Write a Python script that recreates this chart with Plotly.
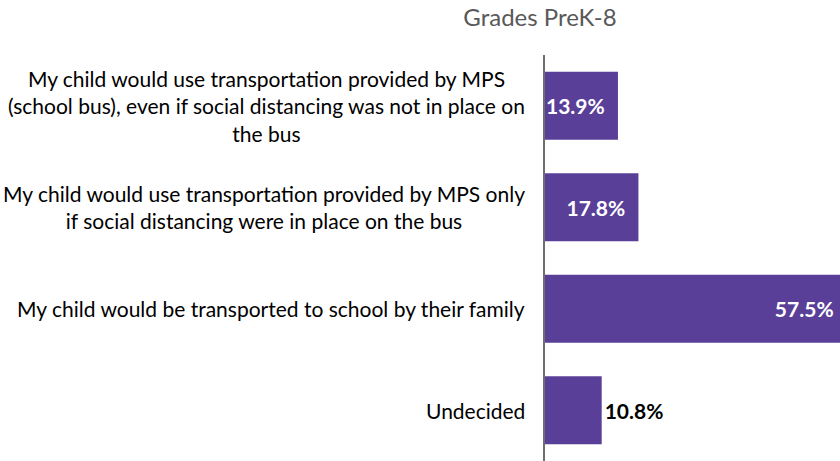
import plotly.graph_objects as go

categories = [
    "My child would use transportation provided by MPS<br>(school bus), even if social distancing was not in place on<br>the bus",
    "My child would use transportation provided by MPS only<br>if social distancing were in place on the bus",
    "My child would be transported to school by their family",
    "Undecided",
]
values = [13.9, 17.8, 57.5, 10.8]
text_positions = ["inside", "inside", "inside", "outside"]
text_colors = ["white", "white", "white", "black"]
title_text = "Grades PreK-8"

BAR_COLOR = "#5A3F99"
FONT = "Lato"
NBSP = "\u00a0"

fig = go.Figure()
fig.add_trace(go.Bar(
    y=categories,
    x=values,
    orientation="h",
    marker=dict(color=BAR_COLOR, line=dict(width=0)),
    text=[f"{v:.1f}%" + (NBSP * 2 if p == "inside" else "") for v, p in zip(values, text_positions)],
    textposition=text_positions,
    insidetextanchor="end",
    textfont=dict(family=FONT, size=21, color=text_colors, weight="bold"),
    constraintext="none",
    cliponaxis=True,
    hoverinfo="skip",
))

for cat in categories:
    fig.add_annotation(
        x=0, xref="x domain", xanchor="right", xshift=-18,
        y=cat, yref="y", yanchor="middle",
        text=cat, align="center", showarrow=False,
        font=dict(family=FONT, size=21, color="#000000"),
    )

fig.update_layout(
    width=840, height=461,
    margin=dict(l=545, r=0, t=55, b=0),
    paper_bgcolor="white", plot_bgcolor="white",
    bargap=0.33,
    showlegend=False,
    title=dict(text=title_text, x=540 / 840, xanchor="center",
               y=1 - 18 / 461, yanchor="middle",
               font=dict(family=FONT, size=24, color="#595959")),
)
fig.update_xaxes(range=[0, 56.2], visible=False, showgrid=False, zeroline=False)
fig.update_yaxes(autorange="reversed", showticklabels=False, showgrid=False,
                 zeroline=False, showline=True, linecolor="#6e6e6e", linewidth=1.5,
                 ticks="")

fig.write_html("out.html", config={"displayModeBar": False},
               post_script="document.body.style.margin='0';document.body.style.overflow='hidden';")
